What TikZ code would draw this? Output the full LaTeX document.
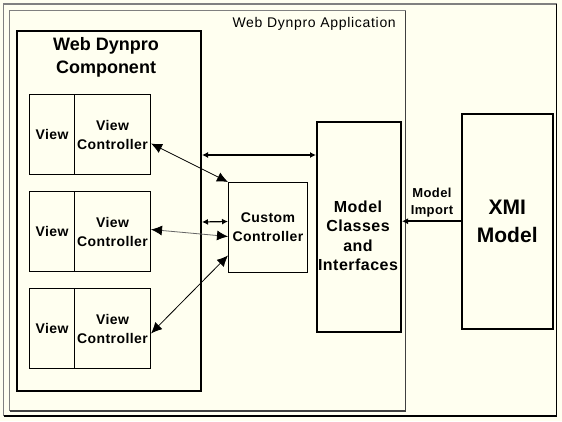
\documentclass[tikz,border=0pt]{standalone}
\usepackage{fontspec}
\setmainfont{Liberation Sans}
\newfontfamily\wideb[LetterSpace=3]{Liberation Sans}
\newfontfamily\midb[LetterSpace=3]{Liberation Sans}
\newfontfamily\plain[LetterSpace=5]{Liberation Sans}
\usetikzlibrary{arrows.meta}
\definecolor{bg}{RGB}{255,255,240}
\definecolor{frameg}{RGB}{128,128,128}
\definecolor{linegray}{RGB}{100,100,100}
\begin{document}
\begin{tikzpicture}[x=1pt,y=-1pt,
  box/.style={draw=black, line width=1pt, fill=bg, rectangle, inner sep=0pt, anchor=north west, align=center},
  thickbox/.style={box, line width=2pt},
  smalltxt/.style={font=\wideb\bfseries\fontsize{14}{19}\selectfont},
  bigarr/.style={{Latex[length=11pt,width=10pt,color=black]}-{Latex[length=11pt,width=10pt,color=black]}, line width=0.8pt},
  smallarr/.style={{Latex[length=6pt,width=6pt]}-{Latex[length=6pt,width=6pt]}, line width=1.2pt},
  lbl/.style={inner sep=0pt, align=center}]
\fill[bg] (0,0) rectangle (562,421);
\useasboundingbox (0,0) rectangle (562,421);
% outer frame
\draw[frameg, line width=1.5pt] (3.5,416) -- (3.5,4) -- (556.5,4);
\draw[black, line width=1.2pt] (3.5,416) -- (556.5,416) -- (556.5,4);
% application box
\draw[frameg, line width=1pt] (9.5,411) -- (9.5,10.5) -- (405.5,10.5);
\draw[black!75, line width=1.5pt] (9.5,411) -- (405.5,411) -- (405.5,10.5);
\node[lbl, anchor=base east, font=\plain\fontsize{14}{17}\selectfont] (apptitle) at (396,27) {Web Dynpro Application};
% component
\node[thickbox, minimum width=184pt, minimum height=360pt] (comp) at (16,30) {};
\node[lbl, font=\bfseries\fontsize{18}{23}\selectfont] (comptitle) at (106,57) {Web Dynpro\\Component};
% views
\foreach \i/\y in {1/94, 2/191, 3/288} {
  \node[box, minimum width=45pt, minimum height=80pt, smalltxt] (v\i) at (29,\y) {View};
  \node[box, minimum width=76pt, minimum height=80pt, smalltxt] (vc\i) at (74,\y) {View\\Controller};
}
% custom controller
\node[box, minimum width=79pt, minimum height=90pt, smalltxt] (cc) at (228,182) {Custom\\Controller};
% model classes
\node[thickbox, minimum width=84pt, minimum height=210pt] (mc) at (316,121) {};
\node[lbl, font=\midb\bfseries\fontsize{16}{19.5}\selectfont] (mctext) at (358,236) {Model\\Classes\\and\\Interfaces};
% XMI model
\node[box, line width=1.5pt, minimum width=91pt, minimum height=215pt, font=\bfseries\fontsize{21}{28}\selectfont] (xmi) at (461,113) {XMI\\Model};
\node[lbl, anchor=south, font=\midb\bfseries\fontsize{13}{17}\selectfont] (imp) at (432,217) {Model\\Import};
% connectors
\draw[bigarr] ([yshift=-9pt]vc1.east) -- (cc.north west);
\draw[bigarr, draw=linegray] ([yshift=2pt]vc2.east) -- ([yshift=-9pt]cc.west);
\draw[bigarr] ([yshift=-5pt]vc3.east) -- ([yshift=-28pt]cc.west);
\draw[line width=2pt, {Latex[length=6pt,width=6pt]}-{Latex[length=6pt,width=6pt]}] ([yshift=56pt]comp.east) -- ([yshift=72pt]mc.west);
\draw[smallarr] ([yshift=-11pt]comp.east) -- ([yshift=6pt]cc.west);
\draw[line width=2pt, -{Latex[length=6pt,width=6pt]}] (xmi.west) -- (mc.east |- xmi.west);
\end{tikzpicture}
\end{document}
